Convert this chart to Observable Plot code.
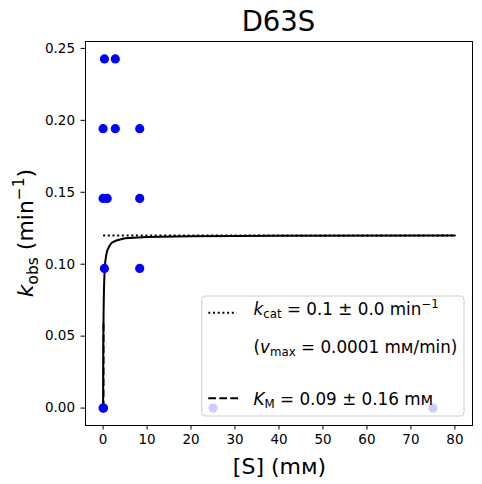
<!DOCTYPE html>
<html><head><meta charset="utf-8">
<script src="https://cdn.jsdelivr.net/npm/d3@7"></script>
<script src="https://cdn.jsdelivr.net/npm/@observablehq/plot@0.6"></script>
<style>
html,body{margin:0;padding:0;background:#fff;}
#chart{width:482px;height:484px;}
svg{font-family:"DejaVu Sans",sans-serif;}
</style></head><body><div id="chart"></div>
<script>
// ---- data ----
const titleText = "D63S";
const xLabel = "[S] (mм)";
const sConc = [0.309, 2.78, 0, 2.78, 8.33, 0, 0.926, 8.33, 0.309, 8.33, 0, 0.103, 25, 75];
const kObs  = [0.2427, 0.2427, 0.1942, 0.1942, 0.1942, 0.1457, 0.1457, 0.1457, 0.0971, 0.0971, 0, 0, 0, 0];
const fitS = [0, 0.05, 0.1, 0.2, 0.3, 0.5, 0.75, 1, 1.5, 2, 3, 5, 10, 20, 40, 80];
const fitK = [0, 0.043, 0.063, 0.083, 0.092, 0.102, 0.107, 0.110, 0.113, 0.115, 0.1165, 0.118, 0.119, 0.1195, 0.1197, 0.1199];
const kcatLevel = 0.12;
const kmValue = 0.09;
const kmLineTop = 0.06;
const sStart = 0;
const sEnd = 80;
const xTicks = [0, 10, 20, 30, 40, 50, 60, 70, 80];
const yTicks = [0, 0.05, 0.10, 0.15, 0.20, 0.25];
const xDomain = [-4, 84];
const yDomain = [-0.0121, 0.2548];

const points = sConc.map((s, i) => ({s, k: kObs[i]}));
const fit = fitS.map((s, i) => ({s, k: fitK[i]}));
const kcatLine = [{s: sStart, k: kcatLevel}, {s: sEnd, k: kcatLevel}];
const kmLine = [{s: kmValue, k: 0}, {s: kmValue, k: kmLineTop}];

const W = 482, H = 484;
const mL = 85, mR = 10, mT = 41, mB = 59;

const plot = Plot.plot({
  width: W, height: H,
  marginLeft: mL, marginRight: mR, marginTop: mT, marginBottom: mB,
  style: {fontFamily: "DejaVu Sans", fontSize: "13.5px", color: "black", background: "white", overflow: "visible"},
  x: {domain: xDomain},
  y: {domain: yDomain},
  marks: [
    Plot.axisX({ticks: xTicks, tickSize: 4.5, tickPadding: 4.5, label: null, fontSize: 13.5}),
    Plot.axisY({ticks: yTicks, tickSize: 4.5, tickPadding: 6, tickFormat: d3.format(".2f"), label: null, fontSize: 13.5}),
    Plot.line(kcatLine, {x: "s", y: "k", stroke: "black", strokeWidth: 2, strokeDasharray: "2,2.7", strokeLinecap: "butt"}),
    Plot.line(kmLine, {x: "s", y: "k", stroke: "black", strokeWidth: 2, strokeDasharray: "7.7,3.3", strokeLinecap: "butt"}),
    Plot.line(fit, {x: "s", y: "k", stroke: "black", strokeWidth: 2}),
    Plot.dot(points, {x: "s", y: "k", r: 4.6, fill: "#0000ff", stroke: "none"}),
    Plot.frame({stroke: "black", strokeWidth: 1})
  ]
});
document.getElementById("chart").appendChild(plot);

const svg = d3.select(plot);
const cx = mL + (W - mL - mR) / 2;

// title
svg.append("text").attr("x", cx).attr("y", 30.5).attr("text-anchor", "middle")
  .attr("font-size", 27.5).attr("fill", "black").text(titleText);

// x label
svg.append("text").attr("x", cx + 1).attr("y", 473.8).attr("text-anchor", "middle")
  .attr("font-size", 22).attr("fill", "black").text(xLabel);

// y label
const yl = svg.append("text").attr("transform", `translate(33,${mT + (H - mT - mB) / 2}) rotate(-90)`)
  .attr("text-anchor", "middle").attr("font-size", 22).attr("fill", "black");
yl.append("tspan").attr("font-style", "italic").text("k");
yl.append("tspan").attr("font-size", 15.4).attr("dy", 4.5).text("obs");
yl.append("tspan").attr("dy", -4.5).text(" (min");
yl.append("tspan").attr("font-size", 15.4).attr("dy", -9).text("−1");
yl.append("tspan").attr("dy", 9).text(")");

// legend
const lg = svg.append("g").attr("font-size", 16.8).attr("fill", "black").attr("text-anchor", "start");
lg.append("rect").attr("x", 201.7).attr("y", 296).attr("width", 262.3).attr("height", 120)
  .attr("rx", 3.5).attr("fill", "white").attr("fill-opacity", 0.8)
  .attr("stroke", "#cccccc").attr("stroke-width", 1);
lg.append("line").attr("x1", 208.3).attr("x2", 236.7).attr("y1", 312.7).attr("y2", 312.7)
  .attr("stroke", "black").attr("stroke-width", 2).attr("stroke-dasharray", "2,2.7");
lg.append("line").attr("x1", 208.3).attr("x2", 238).attr("y1", 398.3).attr("y2", 398.3)
  .attr("stroke", "black").attr("stroke-width", 2).attr("stroke-dasharray", "7.7,3.3");

const tx = 253.5;
const t1 = lg.append("text").attr("x", tx).attr("y", 315);
t1.append("tspan").attr("font-style", "italic").text("k");
t1.append("tspan").attr("font-size", 11.8).attr("dy", 3.4).text("cat");
t1.append("tspan").attr("dy", -3.4).text(" = 0.1 ± 0.0 min");
t1.append("tspan").attr("font-size", 11.8).attr("dy", -7).text("−1");

const t2 = lg.append("text").attr("x", tx).attr("y", 352.6);
t2.append("tspan").text("(");
t2.append("tspan").attr("font-style", "italic").text("v");
t2.append("tspan").attr("font-size", 11.8).attr("dy", 3.4).text("max");
t2.append("tspan").attr("dy", -3.4).text(" = 0.0001 mм/min)");

const t3 = lg.append("text").attr("x", tx).attr("y", 405);
t3.append("tspan").attr("font-style", "italic").text("K");
t3.append("tspan").attr("font-size", 11.8).attr("dy", 3.4).text("M");
t3.append("tspan").attr("dy", -3.4).text(" = 0.09 ± 0.16 mм");
</script></body></html>
